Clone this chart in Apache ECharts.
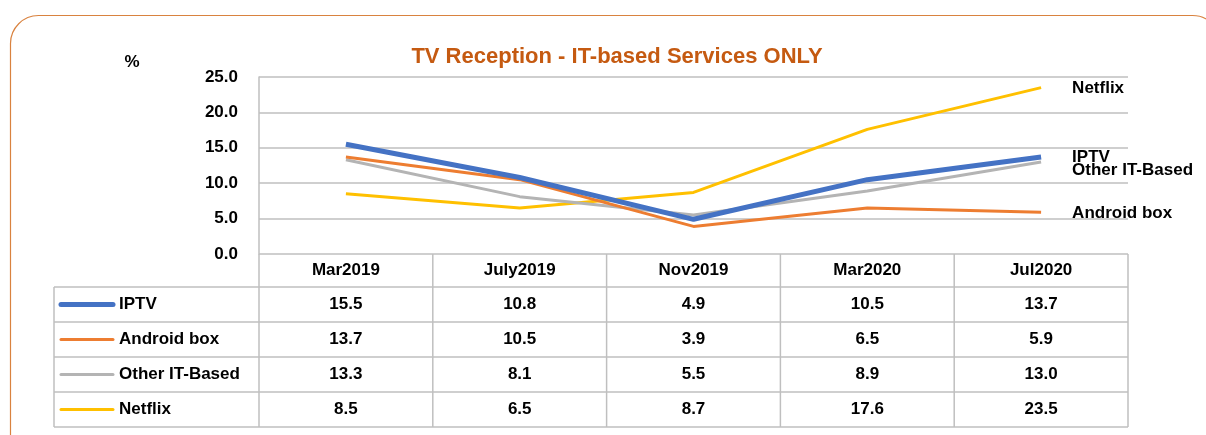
<!DOCTYPE html>
<html><head><meta charset="utf-8">
<script src="https://cdn.jsdelivr.net/npm/echarts@6/dist/echarts.min.js"></script>
<style>html,body{margin:0;padding:0;background:#fff}#c{width:1206px;height:435px}</style>
</head><body><div id="c"></div>
<script>
const categories = ['Mar2019','July2019','Nov2019','Mar2020','Jul2020'];
const seriesNames = ['IPTV','Android box','Other IT-Based','Netflix'];
const iptv = [15.5, 10.8, 4.9, 10.5, 13.7];
const androidBox = [13.7, 10.5, 3.9, 6.5, 5.9];
const otherIT = [13.3, 8.1, 5.5, 8.9, 13.0];
const netflix = [8.5, 6.5, 8.7, 17.6, 23.5];
const yTicks = [0, 5, 10, 15, 20, 25];
const titleText = 'TV Reception - IT-based Services ONLY';
const unitText = '%';

const allData = [iptv, androidBox, otherIT, netflix];
const colors = ['#4472C4','#ED7D31','#B4B4B4','#FFC000'];
const widths = [5, 3, 3, 3];
const endOffsets = [[23,0],[23,1],[23,8],[23,1]];
const FONT = '"Liberation Sans", Arial, sans-serif';
const FS = 17;
const GRID = '#BFBFBF';

const L = 259, R = 1128, T = 77, B = 254;
const tableLeft = 54, headerBottom = 287, rowH = 35;
const colW = (R - L) / categories.length;

const chart = echarts.init(document.getElementById('c'), null, {renderer:'canvas'});

const graphics = [];
graphics.push({type:'rect', shape:{x:10.5,y:15.5,width:1210,height:450,r:28}, style:{fill:'none',stroke:'#D9823F',lineWidth:1.2}, z:0});
graphics.push({type:'text', style:{x:132, y:62, text:unitText, font:'bold 17px '+FONT, fill:'#000', textAlign:'center', textVerticalAlign:'middle'}});
for (let i = 0; i <= seriesNames.length; i++) {
  const y = headerBottom + i*rowH;
  graphics.push({type:'line', shape:{x1:tableLeft,y1:y,x2:R,y2:y}, style:{stroke:GRID,lineWidth:1.5}, z:1});
}
graphics.push({type:'line', shape:{x1:tableLeft,y1:headerBottom,x2:tableLeft,y2:headerBottom+seriesNames.length*rowH}, style:{stroke:GRID,lineWidth:1.5}});
for (let j = 0; j <= categories.length; j++) {
  const x = L + j*colW;
  graphics.push({type:'line', shape:{x1:x,y1:B,x2:x,y2:headerBottom+seriesNames.length*rowH}, style:{stroke:GRID,lineWidth:1.5}});
}
seriesNames.forEach((name, i) => {
  const cy = headerBottom + i*rowH + rowH/2;
  graphics.push({type:'line', shape:{x1:61,y1:cy,x2:113,y2:cy}, style:{stroke:colors[i],lineWidth:widths[i],lineCap:'round'}});
  graphics.push({type:'text', style:{x:119, y:cy, text:name, font:'bold '+FS+'px '+FONT, fill:'#000', textAlign:'left', textVerticalAlign:'middle'}});
  allData[i].forEach((v, j) => {
    graphics.push({type:'text', style:{x:L + j*colW + colW/2, y:cy, text:v.toFixed(1), font:'bold '+FS+'px '+FONT, fill:'#000', textAlign:'center', textVerticalAlign:'middle'}});
  });
});

chart.setOption({
  animation:false,
  title:{text:titleText, left:612, top:41, textAlign:'center', textStyle:{color:'#C55A11', fontSize:22, fontWeight:'bold', fontFamily:FONT}},
  grid:{left:L, right:1206-R, top:T, bottom:435-B},
  xAxis:{type:'category', data:categories, boundaryGap:true,
    axisLine:{show:false},
    axisTick:{show:false},
    axisLabel:{show:true, margin:8, color:'#000', fontSize:FS, fontWeight:'bold', fontFamily:FONT},
    splitLine:{show:false}},
  yAxis:{type:'value', min:0, max:25, interval:5,
    axisLine:{show:true, lineStyle:{color:GRID, width:1.5}},
    axisTick:{show:false},
    axisLabel:{margin:21, color:'#000', fontSize:FS, fontWeight:'bold', fontFamily:FONT, formatter:v=>v.toFixed(1)},
    splitLine:{show:true, lineStyle:{color:GRID, width:1.5}}},
  series: seriesNames.map((n,i)=>({
    name:n, type:'line', data:allData[i], symbol:'none', z: 10 - i,
    lineStyle:{color:colors[i], width:widths[i]},
    itemStyle:{color:colors[i]},
    endLabel:{show:true, formatter:n, offset:endOffsets[i], color:'#000', fontSize:FS, fontWeight:'bold', fontFamily:FONT}
  })),
  graphic: graphics
});
</script></body></html>
